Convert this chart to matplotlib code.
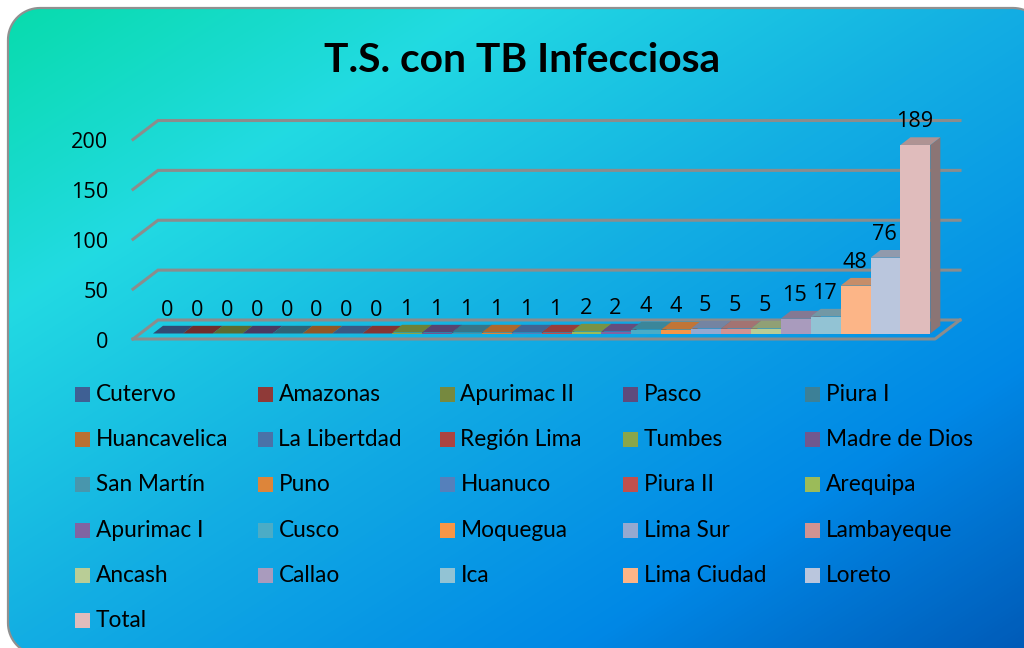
import matplotlib
matplotlib.use("Agg")
import numpy as np
import matplotlib.pyplot as plt
from matplotlib.patches import Polygon, Rectangle
from matplotlib.colors import LinearSegmentedColormap, to_rgb

plt.rcParams["font.family"] = ["Lato", "DejaVu Sans"]

# datos
regiones = ["Cutervo", "Amazonas", "Apurimac II", "Pasco", "Piura I",
            "Huancavelica", "La Libertdad", "Región Lima", "Tumbes", "Madre de Dios",
            "San Martín", "Puno", "Huanuco", "Piura II", "Arequipa",
            "Apurimac I", "Cusco", "Moquegua", "Lima Sur", "Lambayeque",
            "Ancash", "Callao", "Ica", "Lima Ciudad", "Loreto", "Total"]
casos = [0, 0, 0, 0, 0, 0, 0, 0, 1, 1, 1, 1, 1, 1, 2, 2, 4, 4, 5, 5, 5, 15, 17, 48, 76, 189]
colores = ["#3f6094", "#8f3a38", "#76893f", "#5f4a7c", "#3c8097",
           "#ba7032", "#4a72a8", "#ab4442", "#8aa64a", "#70588f",
           "#4896ad", "#dd853a", "#5580bb", "#c0504d", "#9bbb59",
           "#8064a2", "#4bacc6", "#f79646", "#95a9d0", "#d19392",
           "#b9cd96", "#a99bbd", "#92c3d4", "#fcb587", "#bac6dd", "#e0bcbc"]
ticks = [0, 50, 100, 150, 200]

W, H = 1024, 648
fig = plt.figure(figsize=(W / 100, H / 100), dpi=100)
fig.patch.set_facecolor("white")

# fondo en pixeles
bg = fig.add_axes([0, 0, 1, 1])
bg.set_xlim(0, W)
bg.set_ylim(H, 0)
bg.axis("off")

yy, xx = np.mgrid[0:H, 0:W]
t = (xx / W + yy / H) / 2
cmap = LinearSegmentedColormap.from_list("fondo", [
    (0.0, "#07dcaa"), (0.24, "#22dae2"), (0.5, "#13aee3"),
    (0.78, "#0088e6"), (1.0, "#005bb8")])

# marco redondeado, como poligono porque se sale de la figura
radio = 32
x_a, x_b, y_a, y_b = 8, 1045, 8, 655
ang = np.linspace(0, np.pi / 2, 20)
esquinas = [(x_a + radio, y_a + radio, np.pi), (x_b - radio, y_a + radio, 1.5 * np.pi),
            (x_b - radio, y_b - radio, 0), (x_a + radio, y_b - radio, 0.5 * np.pi)]
puntos = []
for cx, cy, a0 in esquinas:
    puntos += [(cx + radio * np.cos(a0 + a), cy + radio * np.sin(a0 + a)) for a in ang]
marco = Polygon(puntos, closed=True, facecolor="none", edgecolor="#909090", linewidth=1.6, zorder=3)
bg.add_patch(marco)
img = bg.imshow(t, cmap=cmap, vmin=0, vmax=1, extent=(0, W, H, 0), aspect="auto", zorder=1)
img.set_clip_path(marco)

# titulo
bg.text(522.5, 60, "T.S. con TB Infecciosa", fontsize=29.3, fontweight="bold",
        color="black", ha="center", va="center", zorder=5)

# leyenda
col_x = [75, 258, 440, 623, 805]
fila_y = [394, 439, 484, 530, 575, 620]
for i, (nombre, c) in enumerate(zip(regiones, colores)):
    x = col_x[i % 5]
    y = fila_y[i // 5]
    bg.add_patch(Rectangle((x, y - 7), 14.5, 14.5, facecolor=c, edgecolor="none", zorder=5))
    bg.text(x + 20.5, y + 7, nombre, fontsize=16.3, color="black", ha="left", va="baseline", zorder=5)

# ejes de datos: x = categoria, y = valor
PX_X = 29.9
PX_Y = 0.9975
ax = fig.add_axes([0, 0, 1, 1])
ax.patch.set_alpha(0)
ax.set_xlim((0 - 167) / PX_X, (W - 167) / PX_X)
ax.set_ylim((333.5 - H) / PX_Y, 333.5 / PX_Y)
ax.axis("off")

dx = 10 / PX_X          # profundidad de las barras
dy = 7.7 / PX_Y
piso_x0, piso_x1 = (133 - 167) / PX_X, (935 - 167) / PX_X
fondo_dx = 25 / PX_X
frente_y = -5.5 / PX_Y
fondo_y = 13.5 / PX_Y
gris = "#8c8c8c"

# paredes y rejilla
for v in ticks:
    ax.plot([piso_x0, piso_x0 + fondo_dx, piso_x1 + fondo_dx],
            [frente_y + v, fondo_y + v, fondo_y + v], color=gris, lw=2.2, zorder=2,
            solid_joinstyle="miter")
    ax.text(piso_x0 - 25 / PX_X, frente_y + v - 3.5, str(v), fontsize=15.6, family="Open Sans",
            color="black", ha="right", va="center", zorder=20)
ax.plot([piso_x0, piso_x1, piso_x1 + fondo_dx], [frente_y, frente_y, fondo_y],
        color=gris, lw=2.2, zorder=2)

# barras 3D
for i, (v, c) in enumerate(zip(casos, colores)):
    r, g, b = to_rgb(c)
    x0, x1 = i - 0.5 + 0.03, i + 0.5 + 0.03
    z = 3 + i
    ax.fill([x1, x1 + dx, x1 + dx, x1], [0, dy, v + dy, v],
            color=(r * 0.62, g * 0.62, b * 0.62), lw=0, zorder=z)
    ax.fill([x0, x1, x1 + dx, x0 + dx], [v, v, v + dy, v + dy],
            color=(r * 0.78, g * 0.78, b * 0.78), lw=0, zorder=z)
    ax.bar(i + 0.03, v, width=1.0, color=c, linewidth=0, zorder=z + 0.5)
    ax.text(i, v + 23.5, str(v), fontsize=15.6, family="Open Sans", color="black",
            ha="center", va="center", zorder=40)

fig.savefig("out.png", dpi=100)
plt.close("all")
